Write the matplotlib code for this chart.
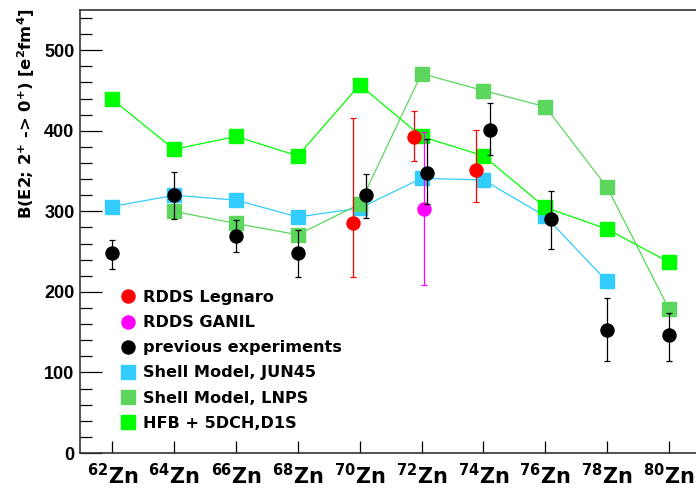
#!/usr/bin/env python3
# -*- coding:utf-8 -*-
"""
B(E2; 2+ -> 0+) systematics for the Zn isotopes:
measured values (RDDS Legnaro, RDDS GANIL, previous experiments)
compared with shell model (JUN45, LNPS) and HFB + 5DCH calculations
"""
import matplotlib
matplotlib.use('Agg')
import matplotlib.pyplot as plt
from matplotlib.lines import Line2D
from matplotlib.ticker import MultipleLocator

# mass numbers / tick labels
mass = [62, 64, 66, 68, 70, 72, 74, 76, 78, 80]
tick_labels = [r'$^{%d}$Zn' % a for a in mass]

# calculations
jun45_a = [62, 64, 66, 68, 70, 72, 74, 76, 78]
jun45_be2 = [306, 320, 314, 293, 304, 341, 339, 294, 213]
lnps_a = [64, 66, 68, 70, 72, 74, 76, 78, 80]
lnps_be2 = [300, 285, 271, 309, 471, 450, 430, 330, 179]
hfb_a = [62, 64, 66, 68, 70, 72, 74, 76, 78, 80]
hfb_be2 = [439, 377, 393, 369, 457, 393, 369, 305, 278, 237]

# experiments (points are shifted a little along x in the original)
legnaro_x = [69.77, 71.77, 73.77]
legnaro_be2 = [285, 392, 351]
legnaro_lo = [67, 29, 39]
legnaro_hi = [131, 33, 50]

ganil_x = [72.07]
ganil_be2 = [303]
ganil_lo = [95]
ganil_hi = [95]

prev_x = [62, 64, 66, 68, 70.2, 72.17, 74.21, 76.19, 78, 80]
prev_be2 = [248, 320, 270, 248, 320, 348, 401, 290, 153, 146]
prev_lo = [19, 29, 20, 30, 28, 39, 31, 37, 39, 32]
prev_hi = [17, 29, 19, 29, 27, 42, 33, 35, 39, 28]

legend_names = ['RDDS Legnaro', 'RDDS GANIL', 'previous experiments',
                'Shell Model, JUN45', 'Shell Model, LNPS', 'HFB + 5DCH,D1S']

C_JUN45 = '#33ccff'
C_LNPS = '#5cd65c'
C_HFB = '#00ff00'


def main():
    plt.rcParams['font.family'] = ['Liberation Sans', 'DejaVu Sans']
    plt.rcParams['font.weight'] = 'bold'
    plt.rcParams['mathtext.fontset'] = 'custom'
    plt.rcParams['mathtext.rm'] = 'DejaVu Sans:bold'
    plt.rcParams['mathtext.it'] = 'DejaVu Sans:bold'
    plt.rcParams['mathtext.bf'] = 'DejaVu Sans:bold'
    plt.rcParams['mathtext.default'] = 'rm'

    W, H = 696, 490
    fig = plt.figure(figsize=(W / 100, H / 100), dpi=100)
    # axes reaches a bit past the right edge, like the cropped original
    ax = fig.add_axes([80 / W, 1 - 453 / H, 626 / W, 443 / H])

    # calculations: lines + squares
    ax.plot(jun45_a, jun45_be2, color=C_JUN45, lw=0.9, marker='s', ms=10,
            mec=C_JUN45, mfc=C_JUN45, zorder=2)
    ax.plot(lnps_a, lnps_be2, color=C_LNPS, lw=0.9, marker='s', ms=10,
            mec=C_LNPS, mfc=C_LNPS, zorder=3)
    ax.plot(hfb_a, hfb_be2, color=C_HFB, lw=0.9, marker='s', ms=10,
            mec=C_HFB, mfc=C_HFB, zorder=4)

    # experiments
    ax.errorbar(legnaro_x, legnaro_be2, yerr=[legnaro_lo, legnaro_hi],
                fmt='o', color='red', ms=9.4, elinewidth=0.9, capsize=2.5,
                capthick=0.9, zorder=5)
    ax.errorbar(ganil_x, ganil_be2, yerr=[ganil_lo, ganil_hi],
                fmt='o', color='#ff00ff', ms=9.4, elinewidth=0.9, capsize=2.5,
                capthick=0.9, zorder=5)
    ax.errorbar(prev_x, prev_be2, yerr=[prev_lo, prev_hi],
                fmt='o', color='black', ms=9.4, elinewidth=0.9, capsize=2.5,
                capthick=0.9, zorder=6)

    # axes
    ax.set_xlim(60.956, 81.2)
    ax.set_ylim(0, 550)
    ax.set_xticks(mass)
    ax.set_xticklabels(tick_labels, fontsize=15, fontweight='bold',
                       family='DejaVu Sans')
    ax.yaxis.set_major_locator(MultipleLocator(100))
    ax.yaxis.set_minor_locator(MultipleLocator(20))
    ax.tick_params(axis='x', direction='in', length=9, width=0.9,
                   pad=7.5, top=False)
    ax.tick_params(axis='y', which='major', direction='in', length=15.8,
                   width=0.9, pad=4, labelsize=13)
    ax.tick_params(axis='y', which='minor', direction='in', length=8.6,
                   width=0.9)
    for lab in ax.get_yticklabels():
        lab.set_fontweight('bold')
    for side in ['left', 'bottom', 'top', 'right']:
        ax.spines[side].set_linewidth(1.2)
        ax.spines[side].set_color('#333333')

    fig.text(26 / W, 1 - 8 / H, r'B(E2; 2$^{+}$ -> 0$^{+}$) [e$^{2}$fm$^{4}$]',
             rotation=90, ha='center', va='top', fontsize=11.8,
             fontweight='bold', family='DejaVu Sans')

    # legend: markers only
    handles = [
        Line2D([], [], ls='none', marker='o', ms=9.4, color='red'),
        Line2D([], [], ls='none', marker='o', ms=9.4, color='#ff00ff'),
        Line2D([], [], ls='none', marker='o', ms=9.4, color='black'),
        Line2D([], [], ls='none', marker='s', ms=10.5, color=C_JUN45),
        Line2D([], [], ls='none', marker='s', ms=10.5, color=C_LNPS),
        Line2D([], [], ls='none', marker='s', ms=10.5, color=C_HFB),
    ]
    fig.legend(handles, legend_names, loc='upper left',
               bbox_to_anchor=(120 / W, 1 - 290 / H),
               bbox_transform=fig.transFigure, frameon=False,
               prop={'family': 'DejaVu Sans', 'weight': 'bold', 'size': 11.6},
               handlelength=1.0, handletextpad=0.43, labelspacing=0.63,
               borderpad=0, borderaxespad=0)

    plt.savefig('out.png', dpi=100)


if __name__ == '__main__':
    main()
